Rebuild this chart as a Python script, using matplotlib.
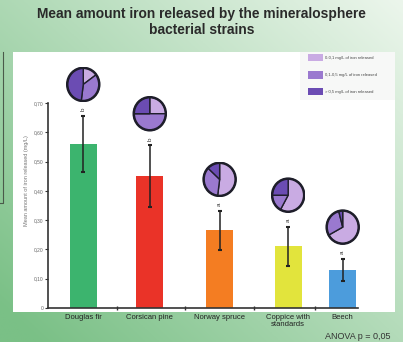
import numpy as np
import matplotlib
matplotlib.use('Agg')
import matplotlib.pyplot as plt
from matplotlib.patches import Rectangle

# 数据
species = ["Douglas fir", "Corsican pine", "Norway spruce", "Coppice with\nstandards", "Beech"]
iron_mean = [0.56, 0.45, 0.265, 0.21, 0.13]
iron_sd = [0.095, 0.105, 0.066, 0.067, 0.038]
groups = ["b", "b", "a", "a", "a"]
# 各菌株类别比例：0-0.1 / 0.1-0.5 / >0.5 mg/L
share_low = [0.15, 0.25, 0.52, 0.58, 0.67]
share_mid = [0.37, 0.50, 0.35, 0.17, 0.29]
share_high = [0.48, 0.25, 0.13, 0.25, 0.04]
class_labels = ["0-0,1 mg/L of iron released", "0,1-0,5 mg/L of iron released",
                "> 0,5 mg/L of iron released"]
yticks = [0, 0.1, 0.2, 0.3, 0.4, 0.5, 0.6, 0.7]

# 布局
xpos = [0, 1, 2.05, 3.08, 3.9]
bar_colors = ["#3cb46e", "#ea3328", "#f47d22", "#e2e43c", "#4c9cdc"]
pie_colors = ["#c9abe3", "#9a79cf", "#6b4cb3"]

plt.rcParams['font.family'] = ['Liberation Sans', 'DejaVu Sans']

W, H = 403, 342
fig = plt.figure(figsize=(W / 100, H / 100), dpi=100)

# 背景渐变
bg = fig.add_axes([0, 0, 1, 1], zorder=-10)
xx, yy = np.meshgrid(np.linspace(0, 1, 200), np.linspace(0, 1, 200))
t = np.clip(0.55 * (1 - xx) + 0.5 * yy, 0, 1)[..., None]
light = np.array([236, 246, 236]) / 255
dark = np.array([122, 192, 134]) / 255
bg.imshow(light * (1 - t) + dark * t, aspect='auto', extent=[0, 1, 0, 1], origin='upper')
bg.set_xlim(0, 1)
bg.set_ylim(0, 1)
bg.axis('off')


def fx(px):
    return px / W


def fy(py):
    return 1 - py / H


# 白色面板与左侧框线
fig.patches.append(Rectangle((fx(13), fy(312)), fx(395) - fx(13), fy(52) - fy(312),
                             transform=fig.transFigure, facecolor='white', edgecolor='none', zorder=-5))
fig.lines.append(plt.Line2D([fx(2.5), fx(2.5), 0], [fy(52), fy(203), fy(203)],
                            transform=fig.transFigure, color='#4a5a4a', lw=0.8))
fig.patches.append(Rectangle((fx(300), fy(100)), fx(395) - fx(300), fy(52) - fy(100),
                             transform=fig.transFigure, facecolor='#f7f8f7', edgecolor='none', zorder=-4))

fig.text(0.5, fy(22), "Mean amount iron released by the mineralosphere\nbacterial strains",
         ha='center', va='center', fontsize=9.9, fontweight='bold', color='#2a2a2a',
         linespacing=1.2)

ax = fig.add_axes([fx(48), fy(308), fx(358) - fx(48), (0.87 * 293) / H])
ax.set_facecolor('none')
ax.bar(xpos, iron_mean, width=0.41, color=bar_colors, zorder=2)
ax.errorbar(xpos, iron_mean, yerr=iron_sd, fmt='none', ecolor='#222222',
            elinewidth=1.1, capsize=1.2, capthick=1.5, zorder=3)

for x, m, s, g, lo, mid, hi in zip(xpos, iron_mean, iron_sd, groups,
                                  share_low, share_mid, share_high):
    top = m + s
    ax.text(x, top + 0.022, g, ha='center', va='center', fontsize=4.5, color='#333333',
            rotation=90, zorder=4)
    pw, ph = 0.52, 0.122
    pie_ax = ax.inset_axes([x - pw / 2, top + 0.108 - ph / 2, pw, ph], transform=ax.transData)
    pie_ax.pie([lo, mid, hi], colors=pie_colors, startangle=90, counterclock=False,
               wedgeprops=dict(edgecolor='#1e1e2a', linewidth=1.0))
    pie_ax.patch.set_visible(False)
    pie_ax.set_aspect('auto')
    # 外圈加粗
    circle = plt.Circle((0, 0), 1.0, fill=False, edgecolor='#1e1e2a', lw=1.8)
    pie_ax.add_patch(circle)
    pie_ax.set_xlim(-1.08, 1.08)
    pie_ax.set_ylim(-1.08, 1.08)

ax.set_xlim(-0.53, 4.13)
ax.set_ylim(0, 0.87)
ax.spines['top'].set_visible(False)
ax.spines['right'].set_visible(False)
for sp in ('left', 'bottom'):
    ax.spines[sp].set_linewidth(1.2)
    ax.spines[sp].set_color('#333333')
ax.spines['left'].set_bounds(0, 0.7)

ax.set_yticks(yticks)
ax.set_yticklabels(["0" if v == 0 else f"{v:.2f}".replace('.', ',') for v in yticks])
ax.tick_params(axis='y', labelsize=3.5, labelcolor='#666666', length=2, width=0.8,
               color='#333333', pad=1.5)
ax.set_ylabel("Mean amount of iron released (mg/L)", fontsize=4, color='#777777', labelpad=3)

ax.set_xticks(xpos)
ax.set_xticklabels(species, fontsize=5.5, color='#222222', linespacing=1.0)
ax.tick_params(axis='x', length=0, pad=4)
mids = [(a + b) / 2 for a, b in zip(xpos[:-1], xpos[1:])]
ax.set_xticks(mids, minor=True)
ax.tick_params(axis='x', which='minor', length=3, width=1, direction='inout', color='#333333')

# 图例
for i, (c, lab) in enumerate(zip(pie_colors, class_labels)):
    yc = [57.5, 75, 91.5][i]
    fig.patches.append(Rectangle((fx(308), fy(yc + 3.5)), fx(15), 7 / H,
                                 transform=fig.transFigure, facecolor=c, edgecolor='none'))
    fig.text(fx(325), fy(yc), lab, fontsize=3, color='#444444', va='center', ha='left')

fig.text(fx(325), fy(341), "ANOVA p = 0,05", fontsize=6.5, color='#333333', va='bottom', ha='left')

fig.savefig("out.png", dpi=100)
